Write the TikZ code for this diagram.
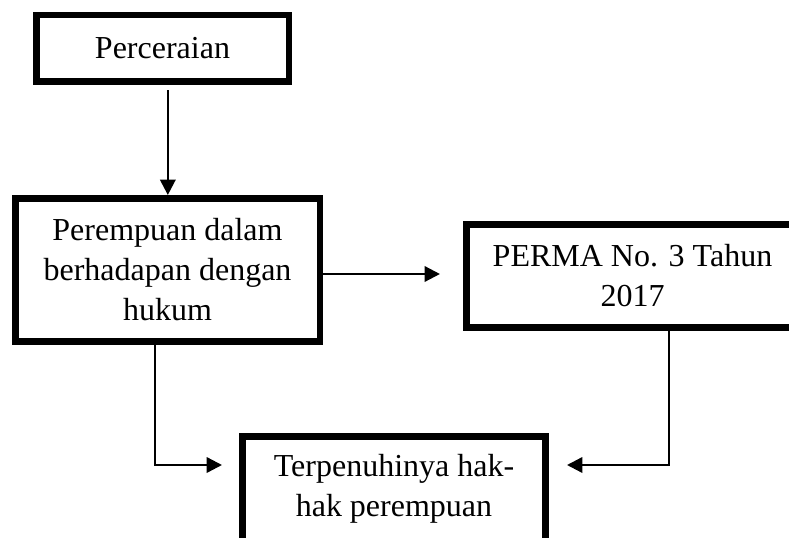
\documentclass[tikz,border=0pt]{standalone}
\usepackage{fontspec}
\setmainfont{Liberation Serif}
\usetikzlibrary{arrows.meta}

\begin{document}
\begin{tikzpicture}[x=.75pt,y=-.75pt,font=\fontsize{24}{30}\selectfont,
    kotak/.style={draw,line width=4.9pt,align=center,inner sep=0pt},
    panah/.style={line width=1.8pt,-{Triangle[length=11.5pt,width=11.5pt]}}]
  \clip (0,0) rectangle (789,538);
  \node[kotak,minimum width=189.4pt,minimum height=49.9pt] (cerai) at (162.5,48.5) {Perceraian};
  \node[kotak,minimum width=228.4pt,minimum height=107.6pt] (hukum) at (167.5,270)
    {Perempuan dalam\\berhadapan dengan\\hukum};
  \node[kotak,minimum width=249.4pt,minimum height=77.6pt] (perma) at (632.5,276)
    {PERMA No. 3 Tahun\\2017};
  \node[kotak,minimum width=227.6pt,minimum height=78.4pt] (hak) at (394,489)
    {Terpenuhinya hak-\\hak perempuan};

  \draw[panah,shorten <=3.75pt] ([xshift=4pt]cerai.south) -- ([xshift=4pt]cerai.south |- hukum.north);
  \draw[panah,shorten >=17.25pt] ([yshift=-3pt]hukum.east) -- ([yshift=-3pt]hukum.east -| perma.west);
  \draw[panah,shorten >=12.75pt] ([xshift=-9.4pt]hukum.south) |- ([yshift=18pt]hak.west);
  \draw[panah,shorten >=13.5pt] ([xshift=27.4pt]perma.south) |- ([yshift=18pt]hak.east);
\end{tikzpicture}
\end{document}
